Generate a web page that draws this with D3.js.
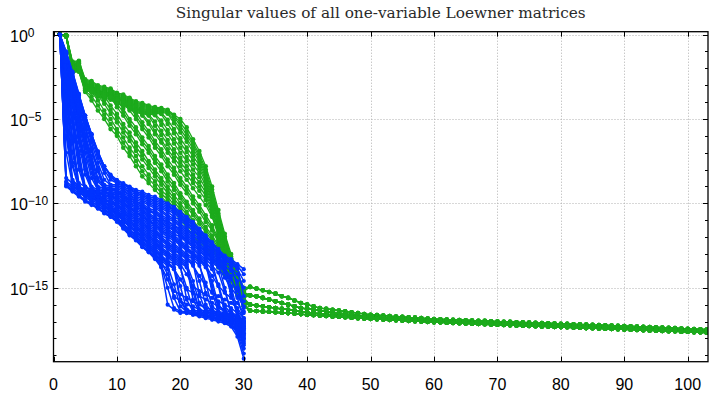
<!DOCTYPE html>
<html><head><meta charset="utf-8">
<script src="https://cdn.jsdelivr.net/npm/d3@7/dist/d3.min.js"></script>
<style>html,body{margin:0;padding:0;background:#fff}svg{display:block}</style>
</head><body>
<script>
// ---------- data (values stored as log10 exponents) ----------
const titleText = "Singular values of all one-variable Loewner matrices";
const xTicks = [0,10,20,30,40,50,60,70,80,90,100];
const yTickExps = [0,-5,-10,-15];

// blue: 30 singular values per matrix, x = 1..30
const blueLog = [
[0,-9.0,-9.3,-9.6,-9.9,-10.1,-10.3,-10.6,-10.8,-11.1,-11.5,-11.9,-12.2,-12.6,-12.9,-13.3,-13.8,-16.0,-16.3,-16.5,-16.5,-16.6,-16.7,-16.8,-16.9,-17.0,-17.1,-17.3,-17.9,-19.2],
[0,-8.95,-9.25,-9.55,-9.85,-10.05,-10.3,-10.55,-10.75,-11.05,-11.45,-11.85,-12.15,-12.55,-12.85,-13.25,-13.75,-14.5,-15.5,-15.8,-16.0,-16.1,-16.3,-16.4,-16.5,-16.6,-16.8,-17.0,-17.4,-18.0],
[0,-8.9,-9.2,-9.5,-9.8,-10.0,-10.3,-10.5,-10.8,-11.0,-11.4,-11.8,-12.1,-12.5,-12.8,-13.2,-13.7,-15.0,-16.2,-16.4,-16.5,-16.6,-16.6,-16.7,-16.8,-16.9,-17.0,-17.2,-17.7,-18.9],
[0,-8.8,-9.1,-9.4,-9.6,-9.9,-10.2,-10.4,-10.7,-11.0,-11.3,-11.7,-12.0,-12.4,-12.7,-13.1,-13.6,-13.9,-15.6,-16.4,-16.4,-16.5,-16.6,-16.7,-16.8,-16.9,-17.0,-17.2,-17.6,-18.6],
[0,-8.7,-9.0,-9.3,-9.6,-9.9,-10.1,-10.4,-10.6,-10.9,-11.3,-11.7,-12.0,-12.3,-12.6,-13.0,-13.5,-14.2,-15.2,-15.4,-15.6,-15.8,-16.0,-16.2,-16.3,-16.5,-16.6,-16.8,-17.1,-17.7],
[0,-7.0,-8.9,-9.2,-9.5,-9.8,-10.0,-10.3,-10.6,-10.9,-11.2,-11.6,-11.9,-12.3,-12.6,-13.0,-13.4,-13.7,-14.8,-16.1,-16.4,-16.5,-16.6,-16.7,-16.8,-16.9,-17.0,-17.2,-17.5,-18.4],
[0,-8.5,-8.8,-9.1,-9.4,-9.7,-9.9,-10.2,-10.5,-10.8,-11.2,-11.6,-11.8,-12.2,-12.5,-12.9,-13.3,-13.6,-13.9,-15.8,-16.4,-16.5,-16.6,-16.7,-16.8,-16.9,-17.0,-17.2,-17.4,-18.3],
[0,-6.0,-8.6,-9.0,-9.3,-9.6,-9.8,-10.1,-10.4,-10.6,-11.0,-11.4,-11.7,-12.0,-12.4,-12.7,-13.2,-13.5,-13.8,-14.9,-16.3,-16.4,-16.5,-16.6,-16.7,-16.8,-16.9,-17.1,-17.3,-18.2],
[0,-5.5,-8.8,-9.1,-9.4,-9.6,-9.9,-10.1,-10.4,-10.7,-11.0,-11.4,-11.7,-12.1,-12.4,-12.8,-13.2,-13.5,-13.9,-14.5,-15.1,-15.3,-15.5,-15.7,-15.9,-16.1,-16.3,-16.5,-16.8,-17.3],
[0,-5.0,-9.0,-9.2,-9.5,-9.7,-9.9,-10.2,-10.4,-10.7,-11.0,-11.4,-11.7,-12.0,-12.3,-12.6,-13.1,-13.4,-13.6,-15.7,-16.3,-16.4,-16.5,-16.6,-16.7,-16.8,-16.9,-17.1,-17.3,-18.1],
[0,-4.6,-7.8,-9.1,-9.3,-9.6,-9.8,-10.1,-10.3,-10.6,-10.9,-11.3,-11.6,-11.9,-12.2,-12.5,-12.9,-13.2,-13.5,-13.8,-15.0,-16.3,-16.4,-16.5,-16.6,-16.7,-16.8,-17.0,-17.2,-18.0],
[0,-4.3,-8.7,-9.0,-9.2,-9.5,-9.7,-10.0,-10.2,-10.5,-10.9,-11.2,-11.5,-11.8,-12.1,-12.4,-12.8,-13.1,-13.4,-13.7,-15.7,-16.4,-16.5,-16.6,-16.7,-16.8,-16.9,-17.1,-17.3,-17.9],
[0,-3.8,-7.6,-9.1,-9.3,-9.5,-9.7,-9.9,-10.2,-10.4,-10.8,-11.1,-11.4,-11.7,-12.0,-12.3,-12.7,-13.0,-13.2,-13.5,-13.8,-15.0,-16.3,-16.4,-16.5,-16.6,-16.7,-16.9,-17.1,-17.8],
[0,-3.6,-7.0,-9.0,-9.2,-9.5,-9.7,-10.0,-10.2,-10.5,-10.8,-11.1,-11.4,-11.7,-12.0,-12.3,-12.7,-13.0,-13.3,-13.6,-14.2,-14.9,-15.2,-15.4,-15.6,-15.8,-16.0,-16.2,-16.5,-17.0],
[0,-3.3,-6.4,-9.2,-9.4,-9.6,-9.8,-10.0,-10.2,-10.4,-10.7,-11.0,-11.3,-11.6,-11.9,-12.2,-12.6,-12.9,-13.1,-13.4,-13.7,-15.7,-16.4,-16.5,-16.6,-16.7,-16.8,-17.0,-17.2,-17.8],
[0,-3.2,-6.2,-9.0,-9.2,-9.4,-9.6,-9.9,-10.1,-10.3,-10.6,-10.9,-11.2,-11.5,-11.8,-12.1,-12.5,-12.7,-13.0,-13.3,-13.6,-14.6,-15.9,-16.3,-16.4,-16.5,-16.6,-16.8,-17.0,-17.7],
[0,-3.1,-6.1,-8.8,-9.0,-9.3,-9.5,-9.7,-10.0,-10.2,-10.5,-10.9,-11.1,-11.4,-11.7,-12.0,-12.4,-12.6,-12.9,-13.2,-13.5,-15.3,-16.3,-16.4,-16.5,-16.6,-16.7,-16.9,-17.1,-17.6],
[0,-2.8,-5.5,-8.0,-9.2,-9.4,-9.6,-9.8,-10.0,-10.1,-10.5,-10.8,-11.0,-11.3,-11.6,-11.9,-12.2,-12.5,-12.8,-13.0,-13.3,-13.6,-14.6,-16.0,-16.4,-16.5,-16.6,-16.8,-17.0,-17.5],
[0,-2.7,-5.2,-7.6,-9.3,-9.4,-9.6,-9.7,-9.9,-10.1,-10.4,-10.7,-10.9,-11.2,-11.5,-11.8,-12.1,-12.4,-12.7,-13.0,-13.3,-13.7,-14.3,-14.9,-15.3,-15.5,-15.7,-15.9,-16.2,-16.8],
[0,-2.6,-5.0,-7.3,-9.4,-9.5,-9.6,-9.8,-9.9,-10.0,-10.4,-10.7,-10.9,-11.2,-11.5,-11.7,-12.1,-12.4,-12.6,-12.9,-13.2,-13.5,-15.4,-16.4,-16.5,-16.6,-16.7,-16.9,-17.1,-17.5],
[0,-2.5,-4.8,-7.1,-9.2,-9.3,-9.5,-9.6,-9.8,-10.0,-10.3,-10.6,-10.8,-11.1,-11.4,-11.6,-12.0,-12.3,-12.5,-12.8,-13.1,-13.3,-13.7,-14.7,-16.1,-16.4,-16.5,-16.7,-16.9,-17.4],
[0,-2.4,-4.7,-6.9,-9.0,-9.2,-9.4,-9.5,-9.7,-9.9,-10.2,-10.5,-10.8,-11.0,-11.3,-11.5,-11.9,-12.1,-12.4,-12.7,-13.0,-13.2,-13.5,-15.3,-16.4,-16.5,-16.6,-16.8,-17.0,-17.4],
[0,-2.2,-4.3,-6.4,-8.3,-9.2,-9.4,-9.5,-9.6,-9.8,-10.1,-10.4,-10.7,-10.9,-11.2,-11.4,-11.7,-12.0,-12.2,-12.5,-12.8,-13.1,-13.4,-13.8,-14.6,-16.0,-16.4,-16.7,-16.9,-17.3],
[0,-2.1,-4.1,-6.1,-8.0,-9.2,-9.3,-9.5,-9.6,-9.7,-10.0,-10.3,-10.5,-10.8,-11.0,-11.3,-11.6,-11.8,-12.1,-12.4,-12.7,-13.0,-13.3,-13.7,-14.3,-14.9,-15.3,-15.6,-15.9,-16.5],
[0,-2.0,-4.0,-5.9,-7.7,-9.3,-9.4,-9.5,-9.6,-9.8,-10.0,-10.3,-10.6,-10.8,-11.1,-11.3,-11.6,-11.9,-12.1,-12.4,-12.7,-13.0,-13.3,-13.6,-15.2,-16.5,-16.6,-16.8,-17.0,-17.3],
[0,-2.0,-3.9,-5.8,-7.6,-9.1,-9.3,-9.4,-9.5,-9.7,-10.0,-10.2,-10.5,-10.7,-11.0,-11.2,-11.5,-11.7,-12.0,-12.3,-12.6,-12.9,-13.2,-13.5,-13.9,-14.8,-16.1,-16.5,-16.8,-17.2],
[0,-1.9,-3.8,-5.6,-7.4,-9.0,-9.2,-9.3,-9.5,-9.6,-9.9,-10.2,-10.4,-10.6,-10.9,-11.1,-11.4,-11.6,-11.9,-12.2,-12.5,-12.7,-13.1,-13.4,-14.9,-16.2,-16.4,-16.6,-16.8,-17.2],
[0,-1.8,-3.6,-5.3,-7.0,-8.5,-9.2,-9.3,-9.4,-9.5,-9.8,-10.1,-10.3,-10.5,-10.8,-11.0,-11.3,-11.5,-11.8,-12.0,-12.3,-12.6,-13.0,-13.3,-13.7,-14.1,-15.2,-16.4,-16.7,-17.1],
[0,-1.7,-3.5,-5.1,-6.7,-8.2,-9.2,-9.3,-9.4,-9.5,-9.7,-10.0,-10.2,-10.4,-10.7,-10.9,-11.1,-11.4,-11.6,-11.9,-12.2,-12.5,-12.8,-13.1,-13.5,-13.8,-14.4,-15.0,-15.5,-16.1],
[0,-1.7,-3.4,-5.0,-6.5,-7.9,-9.3,-9.4,-9.4,-9.5,-9.7,-10.0,-10.2,-10.4,-10.7,-10.9,-11.2,-11.4,-11.6,-11.9,-12.2,-12.5,-12.8,-13.2,-13.5,-14.9,-16.5,-16.7,-16.9,-17.1],
[0,-1.6,-3.3,-4.9,-6.3,-7.7,-9.1,-9.2,-9.3,-9.4,-9.6,-9.9,-10.1,-10.3,-10.6,-10.8,-11.0,-11.3,-11.5,-11.8,-12.1,-12.4,-12.7,-13.0,-13.4,-13.7,-14.1,-15.4,-16.6,-17.0],
[0,-1.6,-3.2,-4.8,-6.2,-7.6,-9.0,-9.1,-9.2,-9.3,-9.6,-9.8,-10.0,-10.2,-10.5,-10.6,-10.9,-11.2,-11.4,-11.7,-12.0,-12.3,-12.6,-12.9,-13.3,-13.6,-15.0,-16.6,-16.8,-17.0],
[0,-1.5,-3.1,-4.6,-6.0,-7.4,-8.7,-9.1,-9.2,-9.3,-9.5,-9.8,-10.0,-10.2,-10.4,-10.6,-10.9,-11.1,-11.3,-11.6,-11.9,-12.2,-12.5,-12.9,-13.2,-13.6,-14.0,-14.5,-15.2,-15.8],
[0,-1.5,-3.0,-4.5,-5.9,-7.2,-8.5,-9.1,-9.2,-9.2,-9.5,-9.7,-9.9,-10.1,-10.4,-10.5,-10.8,-11.0,-11.3,-11.5,-11.8,-12.1,-12.5,-12.8,-13.2,-13.5,-13.9,-14.3,-15.6,-16.9],
[0,-1.4,-2.9,-4.3,-5.6,-6.9,-8.1,-9.2,-9.2,-9.2,-9.4,-9.6,-9.9,-10.0,-10.3,-10.4,-10.7,-10.9,-11.1,-11.4,-11.7,-12.0,-12.4,-12.7,-13.1,-13.4,-13.8,-15.2,-16.7,-17.0],
[0,-1.4,-2.8,-4.2,-5.5,-6.8,-8.0,-9.0,-9.1,-9.1,-9.3,-9.5,-9.8,-9.9,-10.1,-10.3,-10.5,-10.8,-11.0,-11.3,-11.6,-11.9,-12.2,-12.6,-13.0,-13.3,-13.7,-14.0,-14.6,-16.2],
[0,-1.3,-2.7,-4.1,-5.4,-6.7,-7.9,-8.9,-9.0,-9.0,-9.2,-9.5,-9.7,-9.8,-10.0,-10.2,-10.4,-10.7,-10.9,-11.2,-11.5,-11.8,-12.1,-12.5,-12.9,-13.2,-13.6,-14.9,-16.4,-16.8],
[0,-1.2,-2.6,-3.9,-5.2,-6.4,-7.6,-8.6,-8.9,-8.9,-9.1,-9.4,-9.6,-9.7,-9.9,-10.1,-10.3,-10.5,-10.8,-11.0,-11.3,-11.6,-12.0,-12.4,-12.8,-13.1,-13.5,-13.8,-14.2,-15.0],
[0,-1.2,-2.5,-3.8,-5.0,-6.2,-7.3,-8.2,-8.9,-8.9,-9.1,-9.3,-9.5,-9.6,-9.8,-10.0,-10.2,-10.4,-10.6,-10.9,-11.2,-11.5,-11.9,-12.3,-12.7,-13.0,-13.4,-13.6,-15.0,-16.4],
[0,-1.1,-2.4,-3.7,-4.9,-6.0,-7.1,-8.0,-8.6,-8.8,-9.0,-9.2,-9.4,-9.5,-9.7,-9.9,-10.1,-10.3,-10.5,-10.8,-11.1,-11.4,-11.8,-12.2,-12.6,-12.9,-13.3,-13.6,-13.9,-14.6],
[0,-1.1,-2.3,-3.6,-4.8,-5.9,-6.9,-7.8,-8.4,-8.8,-8.9,-9.1,-9.4,-9.5,-9.7,-9.8,-10.0,-10.2,-10.4,-10.7,-11.0,-11.3,-11.7,-12.1,-12.5,-12.9,-13.3,-13.5,-13.8,-15.5],
[0,-1.05,-2.25,-3.55,-4.8,-5.9,-6.95,-7.8,-8.35,-8.7,-8.85,-9.05,-9.3,-9.4,-9.6,-9.7,-9.9,-10.1,-10.3,-10.6,-10.9,-11.2,-11.6,-12.0,-12.4,-12.8,-13.2,-13.4,-13.7,-14.2],
[0,-1.0,-2.2,-3.5,-4.8,-5.9,-7.0,-7.8,-8.3,-8.6,-8.8,-9.0,-9.2,-9.3,-9.5,-9.6,-9.8,-10.0,-10.2,-10.5,-10.8,-11.1,-11.5,-11.9,-12.3,-12.7,-13.1,-13.3,-13.6,-13.9]
];

// green: first 30 values (x = 1..30) per matrix
const greenHeadLog = [
[0,-0.03,-1.6,-1.55,-2.65,-2.75,-3.0,-3.1,-3.2,-3.45,-3.55,-3.75,-3.95,-4.05,-4.2,-4.3,-4.35,-4.45,-4.75,-5.0,-5.5,-6.2,-6.9,-7.8,-9.0,-10.4,-11.8,-13.0,-14.1,-15.0],
[0,-0.03,-1.65,-1.6,-2.71,-2.81,-3.06,-3.16,-3.26,-3.51,-3.61,-3.81,-4.01,-4.11,-4.26,-4.36,-4.41,-4.51,-4.81,-5.2,-5.75,-6.4,-7.1,-8.0,-9.2,-10.6,-11.95,-13.15,-14.2,-15.1],
[0,-0.04,-1.7,-1.65,-2.77,-2.87,-3.12,-3.22,-3.32,-3.57,-3.67,-3.87,-4.07,-4.17,-4.32,-4.42,-4.47,-4.57,-4.87,-5.4,-5.95,-6.55,-7.25,-8.15,-9.35,-10.75,-12.05,-13.25,-14.3,-15.15],
[0,-0.04,-1.75,-1.7,-2.83,-2.93,-3.18,-3.28,-3.38,-3.63,-3.73,-3.93,-4.13,-4.23,-4.38,-4.48,-4.53,-4.63,-5.05,-5.6,-6.15,-6.75,-7.4,-8.3,-9.5,-10.9,-12.15,-13.35,-14.35,-15.2],
[0,-0.05,-1.8,-1.75,-2.89,-2.99,-3.24,-3.34,-3.44,-3.69,-3.79,-3.99,-4.19,-4.29,-4.44,-4.54,-4.59,-4.69,-5.25,-5.8,-6.35,-6.95,-7.55,-8.45,-9.65,-11.0,-12.25,-13.45,-14.45,-15.25],
[0,-0.05,-1.85,-1.8,-2.95,-3.05,-3.3,-3.4,-3.5,-3.75,-3.85,-4.05,-4.25,-4.35,-4.5,-4.6,-4.65,-5.05,-5.6,-6.15,-6.7,-7.2,-7.75,-8.6,-9.8,-11.1,-12.35,-13.5,-14.5,-15.3],
[0,-0.06,-1.9,-1.85,-3.01,-3.11,-3.36,-3.46,-3.56,-3.81,-3.91,-4.11,-4.31,-4.41,-4.56,-4.66,-4.71,-5.3,-5.85,-6.4,-6.95,-7.45,-7.95,-8.75,-9.95,-11.2,-12.45,-13.6,-14.55,-15.35],
[0,-0.06,-1.95,-1.9,-3.07,-3.17,-3.42,-3.52,-3.62,-3.87,-3.97,-4.17,-4.37,-4.47,-4.62,-4.72,-5.1,-5.65,-6.2,-6.7,-7.25,-7.7,-8.2,-8.95,-10.1,-11.35,-12.55,-13.7,-14.6,-15.4],
[0,-0.07,-2.0,-1.95,-3.13,-3.23,-3.48,-3.58,-3.68,-3.93,-4.03,-4.23,-4.43,-4.53,-4.68,-4.78,-5.35,-5.9,-6.45,-7.0,-7.5,-8.0,-8.45,-9.15,-10.25,-11.5,-12.65,-13.75,-14.7,-15.45],
[0,-0.07,-2.05,-2.0,-3.19,-3.29,-3.54,-3.64,-3.74,-3.99,-4.09,-4.29,-4.49,-4.59,-4.74,-5.15,-5.7,-6.25,-6.8,-7.3,-7.8,-8.3,-8.75,-9.35,-10.4,-11.6,-12.75,-13.85,-14.75,-15.5],
[0,-0.08,-2.1,-2.05,-3.25,-3.35,-3.6,-3.7,-3.8,-4.05,-4.15,-4.35,-4.55,-4.65,-4.8,-5.4,-5.95,-6.5,-7.05,-7.55,-8.05,-8.55,-9.0,-9.55,-10.55,-11.75,-12.85,-13.9,-14.8,-15.55],
[0,-0.08,-2.15,-2.1,-3.31,-3.41,-3.66,-3.76,-3.86,-4.11,-4.21,-4.41,-4.61,-4.71,-5.15,-5.7,-6.25,-6.8,-7.3,-7.8,-8.3,-8.8,-9.25,-9.8,-10.7,-11.85,-12.95,-13.95,-14.85,-15.6],
[0,-0.07,-1.85,-1.8,-2.9,-3.0,-3.3,-3.4,-3.5,-3.7,-3.8,-4.0,-4.2,-4.8,-5.3,-5.9,-6.4,-7.0,-7.5,-8.1,-8.6,-9.1,-9.6,-10.1,-10.8,-11.9,-13.0,-14.0,-14.9,-15.6],
[0,-0.07,-1.9,-1.85,-2.95,-3.05,-3.35,-3.45,-3.55,-3.8,-3.9,-4.1,-4.6,-5.2,-5.7,-6.3,-6.8,-7.4,-7.9,-8.5,-9.0,-9.6,-10.1,-10.7,-11.3,-12.1,-13.1,-14.1,-15.0,-15.7],
[0,-0.08,-1.92,-1.87,-2.97,-3.07,-3.37,-3.47,-3.57,-3.82,-3.92,-4.3,-4.8,-5.4,-5.9,-6.5,-7.0,-7.6,-8.1,-8.7,-9.2,-9.8,-10.3,-10.9,-11.45,-12.2,-13.15,-14.15,-15.05,-15.75],
[0,-0.08,-1.95,-1.9,-3.0,-3.1,-3.4,-3.5,-3.6,-3.85,-3.95,-4.5,-5.0,-5.6,-6.1,-6.7,-7.2,-7.8,-8.3,-8.9,-9.4,-10.0,-10.5,-11.1,-11.6,-12.3,-13.2,-14.2,-15.1,-15.8],
[0,-0.09,-2.0,-1.95,-3.05,-3.15,-3.45,-3.55,-3.65,-3.9,-4.4,-5.0,-5.5,-6.1,-6.6,-7.2,-7.7,-8.3,-8.8,-9.4,-9.9,-10.4,-10.9,-11.4,-11.9,-12.5,-13.3,-14.3,-15.2,-15.9],
[0,-0.09,-2.02,-1.97,-3.07,-3.17,-3.47,-3.57,-3.67,-4.1,-4.6,-5.2,-5.7,-6.3,-6.8,-7.4,-7.9,-8.5,-9.0,-9.55,-10.05,-10.55,-11.05,-11.55,-12.05,-12.65,-13.4,-14.35,-15.25,-15.95],
[0,-0.09,-2.05,-2.0,-3.1,-3.2,-3.5,-3.6,-3.7,-4.3,-4.8,-5.4,-5.9,-6.5,-7.0,-7.6,-8.1,-8.7,-9.2,-9.7,-10.2,-10.7,-11.2,-11.7,-12.2,-12.8,-13.5,-14.4,-15.3,-16.0],
[0,-0.1,-2.1,-2.05,-3.15,-3.25,-3.55,-3.65,-4.2,-4.7,-5.3,-5.8,-6.4,-6.9,-7.5,-8.0,-8.5,-9.0,-9.5,-10.0,-10.5,-11.0,-11.5,-12.0,-12.5,-13.1,-13.7,-14.5,-15.4,-16.1],
[0,-0.1,-2.12,-2.07,-3.17,-3.27,-3.57,-3.9,-4.45,-4.95,-5.55,-6.05,-6.65,-7.15,-7.7,-8.2,-8.7,-9.2,-9.7,-10.2,-10.65,-11.15,-11.65,-12.15,-12.65,-13.2,-13.8,-14.55,-15.4,-16.1],
[0,-0.11,-2.15,-2.1,-3.2,-3.3,-3.6,-4.1,-4.7,-5.2,-5.8,-6.3,-6.9,-7.4,-7.9,-8.4,-8.9,-9.4,-9.9,-10.4,-10.8,-11.3,-11.8,-12.3,-12.8,-13.3,-13.9,-14.6,-15.4,-16.1],
[0,-0.12,-2.2,-2.15,-3.3,-3.4,-3.9,-4.5,-5.0,-5.6,-6.1,-6.7,-7.2,-7.8,-8.3,-8.7,-9.2,-9.6,-10.1,-10.6,-11.1,-11.5,-12.0,-12.5,-13.0,-13.5,-14.0,-14.6,-15.3,-16.0],
[0,-0.12,-2.22,-2.17,-3.35,-3.65,-4.2,-4.75,-5.3,-5.8,-6.4,-6.95,-7.5,-8.1,-8.55,-8.95,-9.4,-9.8,-10.3,-10.8,-11.25,-11.7,-12.15,-12.65,-13.15,-13.65,-14.1,-14.6,-15.15,-15.95],
[0,-0.13,-2.25,-2.2,-3.4,-3.9,-4.5,-5.0,-5.6,-6.0,-6.7,-7.2,-7.8,-8.4,-8.8,-9.2,-9.6,-10.0,-10.5,-11.0,-11.4,-11.9,-12.3,-12.8,-13.3,-13.8,-14.2,-14.6,-15.0,-15.9]
];

// green tails (x = 31..103)
const greenTailA = [-14.95,-15.05,-15.15,-15.25,-15.35,-15.5,-15.6,-15.75,-15.9,-16.0,
-16.1,-16.2,-16.25,-16.3,-16.35,-16.4,-16.45,-16.5,-16.55,-16.6,
-16.62,-16.65,-16.68,-16.7,-16.72,-16.75,-16.77,-16.8,-16.82,-16.85,
-16.87,-16.88,-16.9,-16.91,-16.92,-16.94,-16.95,-16.96,-16.98,-17.0,
-17.01,-17.02,-17.04,-17.05,-17.06,-17.08,-17.09,-17.1,-17.12,-17.13,
-17.14,-17.16,-17.17,-17.18,-17.2,-17.21,-17.22,-17.24,-17.25,-17.27,
-17.28,-17.3,-17.31,-17.33,-17.34,-17.36,-17.37,-17.39,-17.41,-17.43,
-17.44,-17.46,-17.47];
const greenTailB = [-15.45,-15.5,-15.6,-15.7,-15.8,-15.9,-16.0,-16.1,-16.2,-16.25,
-16.3,-16.35,-16.4,-16.45,-16.5,-16.55,-16.6,-16.63,-16.66,-16.7,
-16.72,-16.75,-16.77,-16.8,-16.82,-16.85,-16.87,-16.9,-16.92,-16.95,
-16.96,-16.97,-16.99,-17.0,-17.01,-17.03,-17.04,-17.05,-17.07,-17.08,
-17.1,-17.11,-17.12,-17.14,-17.15,-17.16,-17.18,-17.19,-17.2,-17.22,
-17.23,-17.25,-17.26,-17.27,-17.29,-17.3,-17.32,-17.33,-17.35,-17.36,
-17.38,-17.39,-17.41,-17.42,-17.44,-17.45,-17.47,-17.48,-17.5,-17.51,
-17.53,-17.54,-17.56];
const greenTailC = [-16.0,-16.05,-16.1,-16.15,-16.2,-16.25,-16.3,-16.35,-16.4,-16.45,
-16.5,-16.53,-16.56,-16.6,-16.62,-16.65,-16.68,-16.7,-16.73,-16.75,
-16.78,-16.8,-16.82,-16.85,-16.87,-16.9,-16.92,-16.94,-16.96,-16.98,
-17.0,-17.01,-17.03,-17.04,-17.06,-17.07,-17.08,-17.1,-17.11,-17.13,
-17.14,-17.15,-17.17,-17.18,-17.19,-17.21,-17.22,-17.23,-17.25,-17.26,
-17.27,-17.29,-17.3,-17.32,-17.33,-17.35,-17.36,-17.37,-17.39,-17.4,
-17.42,-17.43,-17.45,-17.46,-17.48,-17.49,-17.51,-17.52,-17.54,-17.55,
-17.57,-17.58,-17.6];
const greenTailD = [-16.35,-16.38,-16.4,-16.42,-16.45,-16.48,-16.5,-16.53,-16.56,-16.6,
-16.62,-16.65,-16.67,-16.7,-16.72,-16.75,-16.77,-16.8,-16.82,-16.84,
-16.86,-16.88,-16.9,-16.92,-16.94,-16.96,-16.98,-17.0,-17.02,-17.04,
-17.05,-17.07,-17.09,-17.1,-17.12,-17.13,-17.15,-17.16,-17.18,-17.19,
-17.21,-17.22,-17.23,-17.25,-17.26,-17.28,-17.29,-17.3,-17.32,-17.33,
-17.34,-17.36,-17.37,-17.39,-17.4,-17.41,-17.43,-17.44,-17.46,-17.47,
-17.48,-17.5,-17.51,-17.53,-17.54,-17.56,-17.57,-17.58,-17.6,-17.61,
-17.63,-17.64,-17.66];
const greenTails = [greenTailA, greenTailB, greenTailC, greenTailD];
const greenTailOf = [0,0,0,0,1,1,1,1,1,1,1,1, 2,2,2,2,2,2,2,3,3,3,3,3,3];

// ---------- chart ----------
const W = 709, H = 396;
const L = 53.5, R = 708, T = 31.7, B = 361.7;
const xDomain = [0, 103.2];
const yDomainExp = [-19.38, 0.17];
const blueColor = "#0033ff", greenColor = "#1caa1c";

const svg = d3.select("body").append("svg").attr("width", W).attr("height", H);
svg.append("rect").attr("width", W).attr("height", H).attr("fill", "#fff");

const x = d3.scaleLinear().domain(xDomain).range([L, R]);
const y = d3.scaleLog().domain(yDomainExp.map(e => Math.pow(10, e))).range([B, T]);

// grid
const grid = svg.append("g").attr("stroke", "#b0b0b0").attr("stroke-width", 1).attr("stroke-dasharray", "1,2");
grid.selectAll(".gx").data(xTicks.filter(d => d > 0)).join("line")
  .attr("x1", d => Math.round(x(d)) + 0.5).attr("x2", d => Math.round(x(d)) + 0.5)
  .attr("y1", T).attr("y2", B);
grid.selectAll(".gy").data(yTickExps).join("line")
  .attr("y1", d => Math.round(y(Math.pow(10, d))) + 0.5).attr("y2", d => Math.round(y(Math.pow(10, d))) + 0.5)
  .attr("x1", L).attr("x2", R);

// data
svg.append("defs").append("clipPath").attr("id", "clip")
  .append("rect").attr("x", L).attr("y", T - 3).attr("width", R - L).attr("height", B - T + 3);
const plot = svg.append("g").attr("clip-path", "url(#clip)");
const line = d3.line().x(d => x(d[0])).y(d => y(Math.pow(10, d[1])));

const greenSeries = greenHeadLog.map((head, j) =>
  head.map((v, i) => [i + 1, v]).concat(greenTails[greenTailOf[j]].map((v, i) => [i + 31, v])));
const blueSeries = blueLog.map(arr => arr.map((v, i) => [i + 1, v]));

function drawSeries(series, color, r, sw) {
  const g = plot.append("g");
  series.forEach(s => {
    g.append("path").attr("d", line(s)).attr("fill", "none")
      .attr("stroke", color).attr("stroke-width", sw).attr("stroke-linejoin", "round");
    g.append("g").selectAll("circle").data(s).join("circle")
      .attr("cx", d => x(d[0])).attr("cy", d => y(Math.pow(10, d[1])))
      .attr("r", r).attr("fill", color);
  });
}
drawSeries(greenSeries, greenColor, 2.3, 1.3);
drawSeries(blueSeries, blueColor, 2.1, 1.5);

// frame
const frame = svg.append("g").attr("stroke", "#000").attr("fill", "none");
frame.append("rect").attr("x", L).attr("y", T).attr("width", R - L).attr("height", B - T).attr("stroke-width", 1.3);

// ticks
const tk = svg.append("g").attr("stroke", "#000").attr("stroke-width", 1);
xTicks.forEach(d => {
  const px = Math.round(x(d)) + 0.5;
  tk.append("line").attr("x1", px).attr("x2", px).attr("y1", B).attr("y2", B - 5);
  tk.append("line").attr("x1", px).attr("x2", px).attr("y1", T).attr("y2", T + 5);
});
yTickExps.forEach(e => {
  const py = Math.round(y(Math.pow(10, e))) + 0.5;
  tk.append("line").attr("x1", L).attr("x2", L + 5).attr("y1", py).attr("y2", py);
  tk.append("line").attr("x1", R).attr("x2", R - 5).attr("y1", py).attr("y2", py);
});
d3.range(-19, 1).forEach(e => {
  const py = Math.round(y(Math.pow(10, e))) + 0.5;
  tk.append("line").attr("x1", L).attr("x2", L + 3).attr("y1", py).attr("y2", py);
  tk.append("line").attr("x1", R).attr("x2", R - 3).attr("y1", py).attr("y2", py);
});

// tick labels
const lab = svg.append("g").attr("font-family", "'Liberation Sans', Arial, sans-serif").attr("fill", "#000");
lab.selectAll(".xl").data(xTicks).join("text")
  .attr("x", d => x(d)).attr("y", 389.5).attr("text-anchor", "middle")
  .attr("font-size", 16).text(d => d);
yTickExps.forEach(e => {
  const t = lab.append("text").attr("x", 10).attr("y", y(Math.pow(10, e)) + 7).attr("font-size", 16);
  t.append("tspan").text("10");
  t.append("tspan").attr("dy", -5).attr("font-size", 12).text(e === 0 ? "0" : "\u2212" + (-e));
});

// title
const title = svg.append("text").attr("x", (L + R) / 2).attr("y", 17.5).attr("text-anchor", "middle")
  .attr("font-family", "'DejaVu Serif', serif").attr("font-size", 14).attr("fill", "#2a2a2a").text(titleText);
const tl = title.node().getComputedTextLength();
title.attr("font-size", 14 * 410 / tl);
</script>
</body></html>
